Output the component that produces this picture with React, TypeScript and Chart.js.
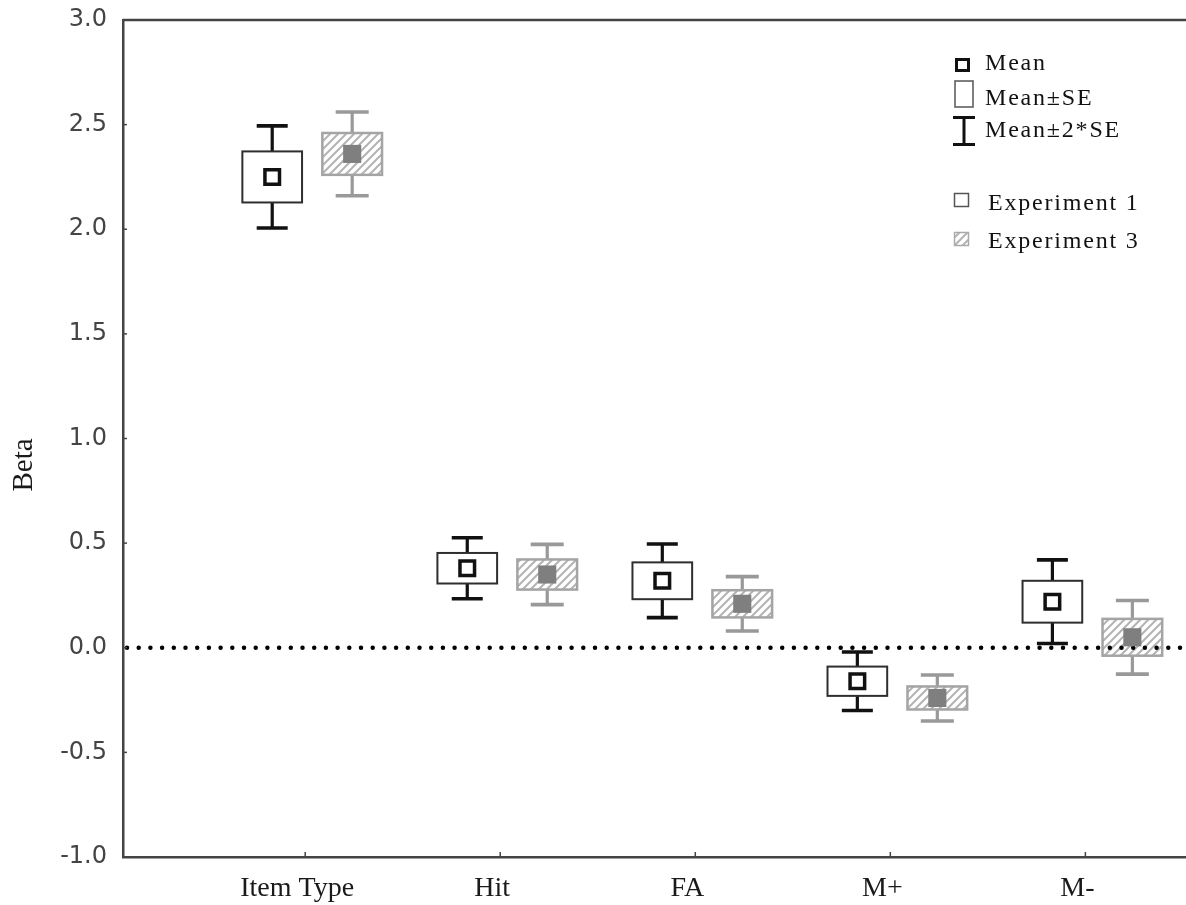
import React, { useEffect, useRef } from 'react';
import { Chart, registerables } from 'chart.js';

Chart.register(...registerables);

// ---- data ----
const categories = ['Item Type', 'Hit', 'FA', 'M+', 'M-'];
const exp1Mean = [2.25, 0.38, 0.32, -0.16, 0.22];
const exp1SE = [0.122, 0.073, 0.088, 0.07, 0.1];
const exp3Mean = [2.36, 0.35, 0.21, -0.24, 0.05];
const exp3SE = [0.1, 0.072, 0.065, 0.055, 0.088];
const yTickValues = [-1.0, -0.5, 0.0, 0.5, 1.0, 1.5, 2.0, 2.5, 3.0];
const yTickLabels = ['-1.0', '-0.5', '0.0', '0.5', '1.0', '1.5', '2.0', '2.5', '3.0'];
const yTitle = 'Beta';
const legendLabels = ['Mean', 'Mean\u00B1SE', 'Mean\u00B12*SE', 'Experiment 1', 'Experiment 3'];

// layout constants (x units of the linear category axis)
const GROUP_OFFSET = 0.205;
const BOX_HALF = 0.153;

function makeHatch(ctx: CanvasRenderingContext2D) {
  const c = document.createElement('canvas');
  c.width = 8;
  c.height = 8;
  const g = c.getContext('2d') as CanvasRenderingContext2D;
  g.fillStyle = '#ffffff';
  g.fillRect(0, 0, 8, 8);
  g.strokeStyle = '#b3b3b3';
  g.lineWidth = 2;
  g.beginPath();
  g.moveTo(0, 8);
  g.lineTo(8, 0);
  g.moveTo(-4, 4);
  g.lineTo(4, -4);
  g.moveTo(4, 12);
  g.lineTo(12, 4);
  g.stroke();
  return ctx.createPattern(c, 'repeat') as CanvasPattern;
}

function zeroScalePadding(scale: any) {
  scale.paddingTop = 0;
  scale.paddingBottom = 0;
  scale.paddingLeft = 0;
  scale.paddingRight = 0;
}

const boxPlugin = {
  id: 'boxWhisker',
  beforeDatasetsDraw(chart: any) {
    const { ctx, scales, chartArea } = chart;
    const x = scales.x;
    const y = scales.y;
    const hatch = makeHatch(ctx);
    const series = [
      { mean: exp1Mean, se: exp1SE, off: -GROUP_OFFSET, fill: '#ffffff' as any, stroke: '#2e2e2e', boxLw: 2, wColor: '#111111', capHalf: 15.5 },
      { mean: exp3Mean, se: exp3SE, off: GROUP_OFFSET, fill: hatch as any, stroke: '#a4a4a4', boxLw: 2.5, wColor: '#999999', capHalf: 16.5 },
    ];
    ctx.save();
    series.forEach((s) => {
      s.mean.forEach((m, i) => {
        const pos = i + 1 + s.off;
        const cx = x.getPixelForValue(pos);
        const xl = x.getPixelForValue(pos - BOX_HALF);
        const xr = x.getPixelForValue(pos + BOX_HALF);
        const bt = y.getPixelForValue(m + s.se[i]);
        const bb = y.getPixelForValue(m - s.se[i]);
        const wt = y.getPixelForValue(m + 2 * s.se[i]);
        const wb = y.getPixelForValue(m - 2 * s.se[i]);
        ctx.setLineDash([]);
        ctx.lineCap = 'butt';
        ctx.strokeStyle = s.wColor;
        ctx.lineWidth = 3.2;
        ctx.beginPath();
        ctx.moveTo(cx, bt);
        ctx.lineTo(cx, wt);
        ctx.moveTo(cx, bb);
        ctx.lineTo(cx, wb);
        ctx.stroke();
        ctx.lineWidth = 3.6;
        ctx.beginPath();
        ctx.moveTo(cx - s.capHalf, wt);
        ctx.lineTo(cx + s.capHalf, wt);
        ctx.moveTo(cx - s.capHalf, wb);
        ctx.lineTo(cx + s.capHalf, wb);
        ctx.stroke();
        ctx.fillStyle = s.fill;
        ctx.fillRect(xl, bt, xr - xl, bb - bt);
        ctx.strokeStyle = s.stroke;
        ctx.lineWidth = s.boxLw;
        ctx.strokeRect(xl, bt, xr - xl, bb - bt);
      });
    });
    // dotted zero line
    const y0 = y.getPixelForValue(0);
    ctx.strokeStyle = '#000000';
    ctx.lineWidth = 4.5;
    ctx.lineCap = 'round';
    ctx.setLineDash([0, 11.7]);
    ctx.beginPath();
    ctx.moveTo(chartArea.left + 4, y0);
    ctx.lineTo(chartArea.right - 2, y0);
    ctx.stroke();
    ctx.restore();
  },
  afterDraw(chart: any) {
    const { ctx, scales, chartArea } = chart;
    const x = scales.x;
    const y = scales.y;
    ctx.save();
    ctx.setLineDash([]);
    // top frame line
    ctx.strokeStyle = '#444444';
    ctx.lineWidth = 2.5;
    ctx.beginPath();
    ctx.moveTo(chartArea.left, chartArea.top);
    ctx.lineTo(chartArea.right, chartArea.top);
    ctx.stroke();
    // inward tick marks
    ctx.lineWidth = 1.5;
    yTickValues.forEach((v) => {
      const py = y.getPixelForValue(v);
      ctx.beginPath();
      ctx.moveTo(chartArea.left, py);
      ctx.lineTo(chartArea.left + 4, py);
      ctx.stroke();
    });
    categories.forEach((_, i) => {
      const px = x.getPixelForValue(i + 1) - 7;
      ctx.beginPath();
      ctx.moveTo(px, chartArea.bottom);
      ctx.lineTo(px, chartArea.bottom - 5);
      ctx.stroke();
    });
    // y axis title
    ctx.save();
    ctx.translate(24, 465);
    ctx.rotate(-Math.PI / 2);
    ctx.font = '29px "Liberation Serif"';
    ctx.fillStyle = '#1a1a1a';
    ctx.textAlign = 'center';
    ctx.textBaseline = 'middle';
    ctx.fillText(yTitle, 0, 0);
    ctx.restore();

    // legend
    const hatch = makeHatch(ctx);
    ctx.fillStyle = '#ffffff';
    ctx.fillRect(955, 58, 15, 14);
    ctx.strokeStyle = '#111111';
    ctx.lineWidth = 3;
    ctx.strokeRect(956.5, 59.5, 12, 11);
    ctx.strokeStyle = '#555555';
    ctx.lineWidth = 1.5;
    ctx.strokeRect(955, 81, 18, 26);
    ctx.strokeStyle = '#111111';
    ctx.lineWidth = 3;
    ctx.beginPath();
    ctx.moveTo(953, 117.5);
    ctx.lineTo(975, 117.5);
    ctx.moveTo(964, 117.5);
    ctx.lineTo(964, 144.5);
    ctx.moveTo(953, 144.5);
    ctx.lineTo(975, 144.5);
    ctx.stroke();
    ctx.fillStyle = '#ffffff';
    ctx.fillRect(954, 193, 15, 14);
    ctx.strokeStyle = '#555555';
    ctx.lineWidth = 1.5;
    ctx.strokeRect(954.5, 193.5, 14, 13);
    ctx.fillStyle = hatch;
    ctx.fillRect(954, 232, 15, 14);
    ctx.strokeStyle = '#aaaaaa';
    ctx.strokeRect(954.5, 232.5, 14, 13);

    ctx.font = '24px "Liberation Serif"';
    (ctx as any).letterSpacing = '1.8px';
    ctx.fillStyle = '#111111';
    ctx.textAlign = 'left';
    ctx.textBaseline = 'alphabetic';
    const lx = [985, 985, 985, 988, 988];
    const ly = [70, 105, 137, 210, 248];
    legendLabels.forEach((t, i) => ctx.fillText(t, lx[i], ly[i]));
    (ctx as any).letterSpacing = '0px';
    ctx.restore();
  },
};

export default function App() {
  const ref = useRef<HTMLCanvasElement | null>(null);
  useEffect(() => {
    document.body.style.margin = '0';
    document.documentElement.style.overflow = 'hidden';
    document.body.style.overflow = 'hidden';
    const canvas = ref.current;
    if (!canvas) return;
    const chart = new Chart(canvas, {
      type: 'scatter',
      data: {
        datasets: [
          {
            label: 'Experiment 1',
            data: exp1Mean.map((m, i) => ({ x: i + 1 - GROUP_OFFSET, y: m })),
            pointStyle: 'rect',
            pointRadius: 10.3,
            pointHoverRadius: 10.3,
            backgroundColor: '#ffffff',
            borderColor: '#111111',
            borderWidth: 3.5,
          },
          {
            label: 'Experiment 3',
            data: exp3Mean.map((m, i) => ({ x: i + 1 + GROUP_OFFSET, y: m })),
            pointStyle: 'rect',
            pointRadius: 12.8,
            pointHoverRadius: 12.8,
            backgroundColor: '#7f7f7f',
            borderColor: '#7f7f7f',
            borderWidth: 0,
          },
        ],
      },
      options: {
        animation: false,
        responsive: false,
        maintainAspectRatio: false,
        layout: { autoPadding: false, padding: { top: 20, right: 0, left: 0, bottom: 0 } },
        plugins: {
          legend: { display: false },
          tooltip: { enabled: false },
          title: { display: false },
        },
        events: [],
        scales: {
          x: {
            type: 'linear',
            min: 0.03,
            max: 5.48,
            afterBuildTicks: (scale: any) => {
              scale.ticks = categories.map((_, i) => ({ value: i + 1 }));
            },
            afterFit: (scale: any) => {
              scale.height = 48;
              zeroScalePadding(scale);
            },
            grid: { display: false },
            border: { display: true, color: '#444444', width: 2.5 },
            ticks: {
              autoSkip: false,
              maxRotation: 0,
              padding: 7,
              labelOffset: -15,
              color: '#1a1a1a',
              font: { family: '"Liberation Serif"', size: 28 },
              callback: (v: any) => categories[Math.round(Number(v)) - 1] ?? '',
            },
          },
          y: {
            type: 'linear',
            min: -1,
            max: 3,
            afterBuildTicks: (scale: any) => {
              scale.ticks = yTickValues.map((v) => ({ value: v }));
            },
            afterFit: (scale: any) => {
              scale.width = 123;
              zeroScalePadding(scale);
            },
            grid: { display: false },
            border: { display: true, color: '#444444', width: 2.5 },
            ticks: {
              autoSkip: false,
              padding: 8,
              color: '#444444',
              font: { family: '"DejaVu Sans"', size: 24 },
              callback: (v: any) => {
                const idx = yTickValues.findIndex((t) => Math.abs(t - Number(v)) < 1e-6);
                return idx >= 0 ? yTickLabels[idx] : '';
              },
            },
          },
        },
      },
      plugins: [boxPlugin],
    } as any);
    return () => chart.destroy();
  }, []);
  return (
    <div style={{ width: 1186, height: 905, background: '#ffffff' }}>
      <canvas ref={ref} width={1186} height={905} style={{ display: 'block', width: 1186, height: 905 }} />
    </div>
  );
}
